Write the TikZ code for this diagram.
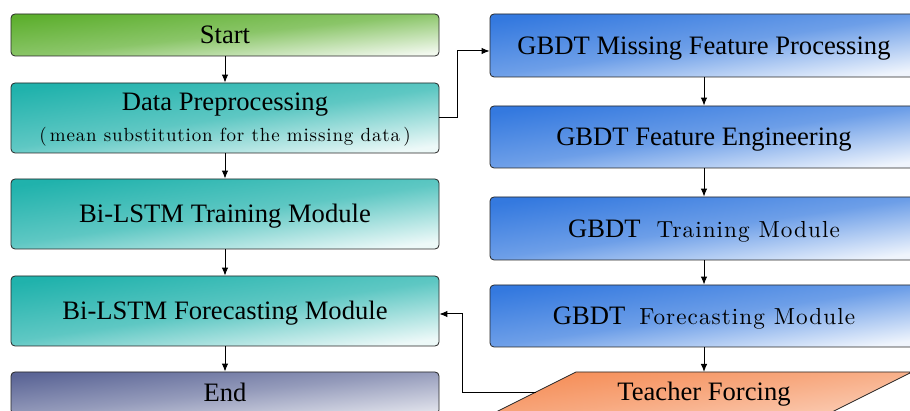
\documentclass[tikz,border=0pt]{standalone}
\usepackage{fontspec}
\setmainfont{Liberation Serif}
% Latin Modern with a little tracking for the explanatory wording
\newfontfamily\lmwide{lmroman10-regular.otf}[LetterSpace=4.5]
\usetikzlibrary{arrows.meta,calc}

\definecolor{cgreen}{HTML}{5DAF2E}
\definecolor{cteal}{HTML}{20B2AC}
\definecolor{cblue}{HTML}{3479DF}
\definecolor{cslate}{HTML}{5B6596}
\definecolor{corange}{HTML}{F58C55}

\newcommand\notefont{\lmwide\fontsize{23.2pt}{27pt}\selectfont}
\newcommand\smallnote{\lmwide\fontsize{19pt}{23pt}\selectfont}

\begin{document}
\begin{tikzpicture}[x=1pt,y=-1pt,
  box/.style={draw=black!85, line width=0.8pt, rounded corners=4pt,
    minimum width=428pt, inner sep=0pt, text height=17.6pt, text depth=0pt,
    font=\fontsize{26.6pt}{30pt}\selectfont},
  grad/.style={top color=#1, bottom color=#1!8!white, middle color=#1!72!white,
    shading angle=8},
  title/.style={inner sep=0pt, anchor=base, font=\fontsize{26.6pt}{30pt}\selectfont},
  arr/.style={line width=1pt, -{Latex[length=8pt,width=6.5pt]}}
]
\useasboundingbox (0,0) rectangle (910,411);

% left column: Bi-LSTM branch
\node[box, grad=cgreen, shading angle=6, minimum height=42pt] (start) at (225,35) {Start};
\node[box, grad=cteal, minimum height=70pt] (prep) at (225,118) {};
\node[title] (preptitle) at (225,111) {Data Preprocessing};
\node[inner sep=0pt, anchor=base, font=\smallnote] (prepnote) at (225,141.5)
  {(\,mean substitution for the missing data\,)};
\node[box, grad=cteal, minimum height=70pt] (train) at (225,214) {Bi-LSTM Training Module};
\node[box, grad=cteal, minimum height=70pt] (fore) at (225,311) {Bi-LSTM Forecasting Module};
\node[box, top color=cslate, bottom color=cslate!20!white, middle color=cslate!65!white,
  shading angle=6, minimum height=42pt] (end) at (225,393) {End};

% right column: GBDT branch
\node[box, grad=cblue, minimum height=63pt] (miss) at (704,45.5) {GBDT Missing Feature Processing};
\node[box, grad=cblue, minimum height=62pt] (feat) at (704,137) {GBDT Feature Engineering};
\node[box, grad=cblue, minimum height=63pt] (gtrain) at (704,228.5)
  {GBDT\hspace{16pt}{\notefont Training Module}};
\node[box, grad=cblue, minimum height=62pt] (gfore) at (704,316)
  {GBDT\hspace{14pt}{\notefont Forecasting Module}};

% Teacher Forcing parallelogram
\shade[draw=black!85, line width=0.8pt,
  top color=corange, bottom color=corange!45!white, middle color=corange!75!white,
  shading angle=8]
  (576,372) -- (912,372) -- (832,412) -- (496,412) -- cycle;
\coordinate (teachtop) at (704,372);
\coordinate (teachleft) at (536,392);
\node[inner sep=0pt, text height=17.6pt, text depth=0pt,
  font=\fontsize{26.6pt}{30pt}\selectfont] (teacher) at (704,392) {Teacher Forcing};

% connectors
\draw[arr] (start) -- (prep);
\draw[arr] (prep) -- (train);
\draw[arr] (train) -- (fore);
\draw[arr] (fore) -- (end);
\draw[arr] (miss) -- (feat);
\draw[arr] (feat) -- (gtrain);
\draw[arr] (gtrain) -- (gfore);
\draw[arr] (gfore) -- (teachtop);
\draw[arr] (prep.east) -- ++(18,0) |- ([yshift=-5.5pt]miss.west);
\draw[arr] (teachleft) -- ++(-74,0) |- ([yshift=-3pt]fore.east);
\end{tikzpicture}
\end{document}
